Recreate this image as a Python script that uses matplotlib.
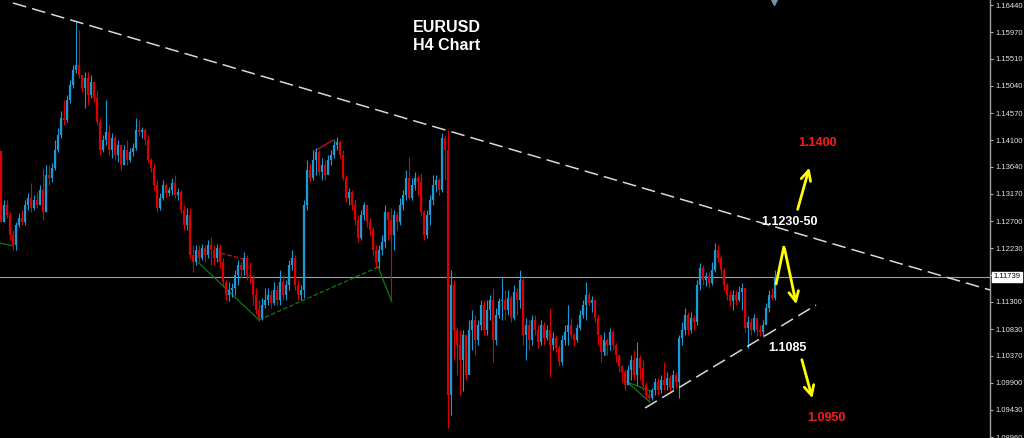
"""EURUSD H4 candlestick chart with trendlines and target levels."""

import matplotlib
matplotlib.use("Agg")
import matplotlib.pyplot as plt
from matplotlib import transforms

# ---- data ----
first_open = 1.1391

closes = [
    1.1269, 1.1298, 1.1281, 1.1246, 1.1229, 1.1263, 1.1276, 1.1269, 1.1298, 1.1310,
    1.1293, 1.1307, 1.1298, 1.1324, 1.1286, 1.1350, 1.1345, 1.1362, 1.1393, 1.1419,
    1.1449, 1.1445, 1.1480, 1.1506, 1.1532, 1.1540, 1.1523, 1.1500, 1.1518, 1.1489,
    1.1511, 1.1483, 1.1442, 1.1393, 1.1411, 1.1424, 1.1393, 1.1414, 1.1384, 1.1402,
    1.1367, 1.1393, 1.1376, 1.1390, 1.1397, 1.1428, 1.1424, 1.1428, 1.1411, 1.1376,
    1.1362, 1.1332, 1.1293, 1.1310, 1.1332, 1.1319, 1.1324, 1.1336, 1.1315, 1.1320,
    1.1289, 1.1263, 1.1281, 1.1211, 1.1199, 1.1220, 1.1206, 1.1224, 1.1211, 1.1229,
    1.1220, 1.1206, 1.1224, 1.1199, 1.1165, 1.1142, 1.1151, 1.1154, 1.1177, 1.1194,
    1.1186, 1.1206, 1.1177, 1.1172, 1.1142, 1.1116, 1.1102, 1.1125, 1.1134, 1.1142,
    1.1129, 1.1151, 1.1134, 1.1165, 1.1142, 1.1160, 1.1194, 1.1206, 1.1160, 1.1142,
    1.1151, 1.1298, 1.1359, 1.1345, 1.1376, 1.1390, 1.1355, 1.1367, 1.1350, 1.1376,
    1.1384, 1.1402, 1.1407, 1.1384, 1.1345, 1.1310, 1.1320, 1.1298, 1.1272, 1.1241,
    1.1281, 1.1298, 1.1269, 1.1255, 1.1220, 1.1199, 1.1220, 1.1234, 1.1286, 1.1272,
    1.1246, 1.1281, 1.1269, 1.1298, 1.1315, 1.1345, 1.1310, 1.1332, 1.1345, 1.1338,
    1.1286, 1.1246, 1.1281, 1.1307, 1.1332, 1.1341, 1.1324, 1.1414, 1.1393, 1.0969,
    1.1160, 1.1082, 1.1056, 1.1030, 1.1073, 1.1004, 1.1082, 1.1099, 1.1064, 1.1090,
    1.1125, 1.1082, 1.1116, 1.1134, 1.1064, 1.1108, 1.1131, 1.1134, 1.1116, 1.1137,
    1.1102, 1.1147, 1.1134, 1.1168, 1.1073, 1.1090, 1.1064, 1.1099, 1.1082, 1.1061,
    1.1090, 1.1068, 1.1082, 1.1056, 1.1068, 1.1051, 1.1026, 1.1064, 1.1078, 1.1090,
    1.1073, 1.1064, 1.1085, 1.1108, 1.1125, 1.1142, 1.1129, 1.1134, 1.1102, 1.1073,
    1.1044, 1.1064, 1.1056, 1.1078, 1.1056, 1.1038, 1.1019, 1.1009, 1.0986, 1.1012,
    1.1030, 1.1004, 1.1033, 1.1016, 1.0986, 1.0969, 1.0964, 1.0978, 1.0992, 1.0978,
    1.0995, 1.0986, 1.0999, 1.0981, 1.1004, 1.0992, 1.1068, 1.1082, 1.1108, 1.1082,
    1.1102, 1.1095, 1.1160, 1.1189, 1.1168, 1.1175, 1.1163, 1.1186, 1.1220, 1.1206,
    1.1186, 1.1160, 1.1142, 1.1131, 1.1142, 1.1134, 1.1147, 1.1154, 1.1085, 1.1095,
    1.1082, 1.1102, 1.1082, 1.1078, 1.1090, 1.1120, 1.1142, 1.1137, 1.1174,
]

highs = [
    1.1393, 1.1307, 1.1307, 1.1286, 1.1255, 1.1269, 1.1284, 1.1289, 1.1307, 1.1319,
    1.1336, 1.1315, 1.1320, 1.1332, 1.1362, 1.1367, 1.1367, 1.1371, 1.1411, 1.1431,
    1.1460, 1.1480, 1.1489, 1.1514, 1.1540, 1.1616, 1.1601, 1.1523, 1.1528, 1.1528,
    1.1523, 1.1500, 1.1497, 1.1449, 1.1419, 1.1480, 1.1436, 1.1423, 1.1419, 1.1411,
    1.1402, 1.1402, 1.1411, 1.1397, 1.1406, 1.1449, 1.1445, 1.1433, 1.1431, 1.1419,
    1.1379, 1.1371, 1.1341, 1.1319, 1.1341, 1.1336, 1.1329, 1.1345, 1.1350, 1.1327,
    1.1324, 1.1298, 1.1293, 1.1293, 1.1229, 1.1229, 1.1229, 1.1231, 1.1229, 1.1238,
    1.1243, 1.1229, 1.1231, 1.1231, 1.1206, 1.1168, 1.1165, 1.1163, 1.1186, 1.1203,
    1.1200, 1.1217, 1.1211, 1.1200, 1.1177, 1.1154, 1.1134, 1.1137, 1.1154, 1.1154,
    1.1151, 1.1165, 1.1160, 1.1186, 1.1177, 1.1168, 1.1203, 1.1220, 1.1211, 1.1168,
    1.1160, 1.1307, 1.1376, 1.1371, 1.1393, 1.1397, 1.1393, 1.1379, 1.1376, 1.1384,
    1.1393, 1.1411, 1.1416, 1.1411, 1.1393, 1.1350, 1.1327, 1.1324, 1.1307, 1.1281,
    1.1289, 1.1303, 1.1298, 1.1276, 1.1259, 1.1229, 1.1229, 1.1246, 1.1298, 1.1286,
    1.1293, 1.1289, 1.1286, 1.1310, 1.1324, 1.1359, 1.1381, 1.1345, 1.1355, 1.1350,
    1.1353, 1.1289, 1.1289, 1.1315, 1.1350, 1.1350, 1.1345, 1.1423, 1.1419, 1.1428,
    1.1186, 1.1168, 1.1085, 1.1082, 1.1082, 1.1064, 1.1099, 1.1116, 1.1108, 1.1099,
    1.1134, 1.1134, 1.1134, 1.1142, 1.1154, 1.1120, 1.1137, 1.1172, 1.1151, 1.1151,
    1.1142, 1.1160, 1.1154, 1.1186, 1.1172, 1.1102, 1.1099, 1.1108, 1.1108, 1.1090,
    1.1099, 1.1095, 1.1090, 1.1120, 1.1078, 1.1073, 1.1056, 1.1073, 1.1090, 1.1125,
    1.1102, 1.1076, 1.1092, 1.1116, 1.1134, 1.1165, 1.1147, 1.1141, 1.1134, 1.1108,
    1.1073, 1.1078, 1.1068, 1.1085, 1.1082, 1.1059, 1.1038, 1.1021, 1.1012, 1.1021,
    1.1038, 1.1047, 1.1061, 1.1038, 1.1030, 1.0992, 1.0978, 1.0981, 1.0999, 1.0999,
    1.1004, 1.1026, 1.1009, 1.1004, 1.1012, 1.1009, 1.1073, 1.1095, 1.1120, 1.1113,
    1.1113, 1.1108, 1.1168, 1.1198, 1.1194, 1.1182, 1.1182, 1.1200, 1.1232, 1.1229,
    1.1211, 1.1189, 1.1163, 1.1151, 1.1151, 1.1151, 1.1158, 1.1163, 1.1154, 1.1106,
    1.1102, 1.1109, 1.1102, 1.1090, 1.1099, 1.1128, 1.1151, 1.1154, 1.1186,
]

lows = [
    1.1269, 1.1269, 1.1276, 1.1238, 1.1220, 1.1220, 1.1259, 1.1263, 1.1263, 1.1289,
    1.1286, 1.1289, 1.1293, 1.1298, 1.1272, 1.1286, 1.1332, 1.1338, 1.1359, 1.1390,
    1.1414, 1.1436, 1.1442, 1.1475, 1.1500, 1.1527, 1.1518, 1.1494, 1.1466, 1.1471,
    1.1483, 1.1476, 1.1436, 1.1384, 1.1390, 1.1402, 1.1384, 1.1379, 1.1376, 1.1372,
    1.1359, 1.1367, 1.1367, 1.1372, 1.1383, 1.1393, 1.1417, 1.1414, 1.1402, 1.1372,
    1.1355, 1.1324, 1.1286, 1.1289, 1.1307, 1.1312, 1.1314, 1.1315, 1.1310, 1.1307,
    1.1284, 1.1255, 1.1255, 1.1206, 1.1182, 1.1194, 1.1199, 1.1203, 1.1199, 1.1206,
    1.1194, 1.1194, 1.1199, 1.1189, 1.1156, 1.1134, 1.1131, 1.1139, 1.1142, 1.1160,
    1.1172, 1.1177, 1.1168, 1.1163, 1.1125, 1.1109, 1.1097, 1.1099, 1.1120, 1.1125,
    1.1120, 1.1125, 1.1125, 1.1125, 1.1134, 1.1134, 1.1151, 1.1186, 1.1151, 1.1134,
    1.1134, 1.1137, 1.1289, 1.1338, 1.1341, 1.1350, 1.1350, 1.1341, 1.1341, 1.1359,
    1.1367, 1.1379, 1.1393, 1.1379, 1.1341, 1.1303, 1.1298, 1.1289, 1.1263, 1.1234,
    1.1238, 1.1272, 1.1259, 1.1246, 1.1211, 1.1189, 1.1189, 1.1211, 1.1224, 1.1238,
    1.1131, 1.1220, 1.1255, 1.1263, 1.1289, 1.1307, 1.1307, 1.1307, 1.1324, 1.1315,
    1.1281, 1.1238, 1.1241, 1.1263, 1.1298, 1.1320, 1.1315, 1.1320, 1.1341, 1.0912,
    1.0935, 1.1030, 1.1004, 1.0969, 1.0975, 1.0995, 1.1012, 1.1047, 1.1038, 1.1056,
    1.1082, 1.1073, 1.1073, 1.1099, 1.1026, 1.1056, 1.1102, 1.1099, 1.1099, 1.1108,
    1.1095, 1.1099, 1.1108, 1.1120, 1.1056, 1.1030, 1.1047, 1.1056, 1.1073, 1.1051,
    1.1056, 1.1056, 1.1064, 1.1000, 1.1047, 1.1044, 1.1020, 1.1021, 1.1056, 1.1056,
    1.1068, 1.1054, 1.1061, 1.1082, 1.1102, 1.1099, 1.1123, 1.1113, 1.1095, 1.1056,
    1.1026, 1.1038, 1.1038, 1.1047, 1.1047, 1.1026, 1.1009, 1.0992, 1.0978, 1.0986,
    1.0995, 1.0995, 1.0986, 1.0995, 1.0978, 1.0964, 1.0956, 1.0961, 1.0969, 1.0969,
    1.0973, 1.0978, 1.0978, 1.0975, 1.0978, 1.0981, 1.0964, 1.1056, 1.1073, 1.1073,
    1.1077, 1.1082, 1.1090, 1.1151, 1.1160, 1.1158, 1.1154, 1.1160, 1.1182, 1.1199,
    1.1177, 1.1151, 1.1134, 1.1123, 1.1116, 1.1125, 1.1131, 1.1116, 1.1078, 1.1051,
    1.1073, 1.1078, 1.1071, 1.1071, 1.1070, 1.1095, 1.1113, 1.1134, 1.1134,
]

current_price = 1.11739

# price axis labels (1.11760 is hidden behind the current price box)
ytick_vals = [1.16440, 1.15970, 1.15510, 1.15040, 1.14570, 1.14100, 1.13640,
              1.13170, 1.12700, 1.12230, 1.11760, 1.11300, 1.10830, 1.10370,
              1.09900, 1.09430, 1.08960]
ytick_labels = ["1.16440", "1.15970", "1.15510", "1.15040", "1.14570", "1.14100",
                "1.13640", "1.13170", "1.12700", "1.12230", "", "1.11300",
                "1.10830", "1.10370", "1.09900", "1.09430", "1.08960"]

# drawn objects (bar index, price)
resist_x, resist_y = [4.0, 329.7], [1.16475, 1.11507]
support_x, support_y = [214.7, 271.7], [1.09465, 1.11247]
zz_green = [
    ([-0.3, 4.0], [1.1232, 1.1227], "-"),
    ([66.0, 86.0], [1.11974, 1.10988], "-"),
    ([86.0, 125.7], [1.10988, 1.11905], "--"),
    ([125.7, 130.3], [1.11905, 1.11299], "-"),
    ([208.7, 216.3], [1.09915, 1.09568], "-"),
    ([208.7, 217.3], [1.09915, 1.09741], "-"),
    ([201.3, 201.3], [1.10607, 1.10382], "-"),
]
zz_red = [
    ([73.3, 82.3], [1.12142, 1.12026], "--"),
    ([104.7, 110.8], [1.13918, 1.14104], "-"),
]
arrow_up = [(265.3, 1.12857), (269.7, 1.13671)]
arrow_vee = [(258.3, 1.11594), (261.0, 1.12269), (265.3, 1.11213)]
arrow_down = [(266.7, 1.10347), (270.7, 1.09586)]

labels = [
    ("1.1400", 272.3, 1.14052, "#ff1a1a"),
    ("1.1230-50", 263.0, 1.12684, "white"),
    ("1.1085", 262.3, 1.10503, "white"),
    ("1.0950", 275.0, 1.09291, "#ff1a1a"),
]

UP = "#1c9ad6"
DOWN = "#dc0000"

fig = plt.figure(figsize=(10.24, 4.38), dpi=100, facecolor="black")
ax = fig.add_axes([0, 0, 990 / 1024, 1])
ax.set_facecolor("black")

opens = [first_open] + closes[:-1]
xs = list(range(len(closes)))
cols = [UP if c >= o else DOWN for o, c in zip(opens, closes)]
ax.vlines(xs, lows, highs, colors=cols, lw=0.8, zorder=3)
ax.vlines(xs, [min(o, c) for o, c in zip(opens, closes)],
          [max(o, c) for o, c in zip(opens, closes)], colors=cols, lw=1.6, zorder=3)

# current price line
ax.axhline(current_price, color="#8fa3b8", lw=0.8, zorder=2)

# trendlines
ax.plot(resist_x, resist_y, color="#d8d8d8", lw=1.1, dashes=(9, 4), zorder=4)
ax.plot(support_x, support_y, color="#d8d8d8", lw=1.1, dashes=(9, 4), zorder=4)
for lx, ly, ls in zz_green:
    ax.plot(lx, ly, color="#0f7a0f", lw=0.9, ls=ls, zorder=2)
for lx, ly, ls in zz_red:
    ax.plot(lx, ly, color="#d01010", lw=0.9, ls=ls, zorder=2)

# yellow arrows
yel = "#ffff00"
arrow_kw = dict(arrowstyle="->,head_length=0.7,head_width=0.35", color=yel, lw=2)
ax.annotate("", xy=arrow_up[1], xytext=arrow_up[0], arrowprops=arrow_kw, zorder=5)
ax.plot([p[0] for p in arrow_vee[:2]], [p[1] for p in arrow_vee[:2]], color=yel, lw=2,
        solid_capstyle="butt", zorder=5)
ax.annotate("", xy=arrow_vee[2], xytext=arrow_vee[1], arrowprops=arrow_kw, zorder=5)
ax.annotate("", xy=arrow_down[1], xytext=arrow_down[0], arrowprops=arrow_kw, zorder=5)

for txt, lx, ly, c in labels:
    ax.text(lx, ly, txt, color=c, fontsize=9, fontweight="bold", ha="center",
            va="center", family="Liberation Sans", zorder=6)

ax.text(0.4515, 0.938, "EURUSD", transform=ax.transAxes, color="white", fontsize=11.5,
        fontweight="bold", ha="center", va="center", family="Liberation Sans")
ax.text(0.4515, 0.896, "H4 Chart", transform=ax.transAxes, color="white", fontsize=11.5,
        fontweight="bold", ha="center", va="center", family="Liberation Sans")

# small marker at the top edge
ax.plot([0.7815], [0.996], transform=ax.transAxes, marker="v", ms=5,
        color="#7c90a4", clip_on=False)

ax.set_xlim(-1 / 3, 989 / 3)
ax.set_ylim(1.08945, 1.16527)

ax.yaxis.tick_right()
ax.set_yticks(ytick_vals)
ax.set_yticklabels(ytick_labels)
ax.tick_params(axis="y", colors="#b0b0b0", labelcolor="#e6e6e6", labelsize=5.5,
               length=2.5, width=0.8, pad=1.2)
for lab in ax.get_yticklabels():
    lab.set_family("Liberation Sans")
ax.set_xticks([])
for side in ["left", "top", "bottom"]:
    ax.spines[side].set_visible(False)
ax.spines["right"].set_color("#a0a0a0")
ax.spines["right"].set_linewidth(1)

# current price box on the axis
trans = transforms.blended_transform_factory(ax.transAxes, ax.transData)
ax.text(1.0 + 3.5 / 990, current_price, "1.11739", transform=trans, color="black",
        fontsize=5.5, family="Liberation Sans", ha="left", va="center", clip_on=False,
        bbox=dict(boxstyle="square,pad=0.2", fc="white", ec="white"))

fig.savefig("out.png", dpi=100, facecolor="black")
